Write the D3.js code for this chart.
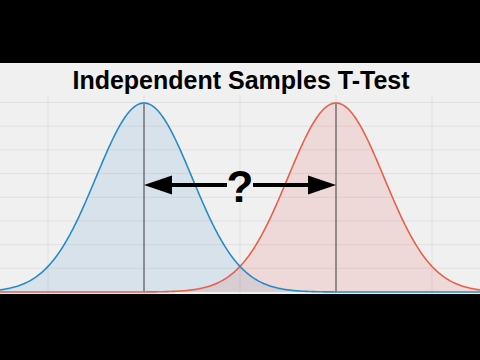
<!DOCTYPE html>
<html>
<head>
<meta charset="utf-8">
<script src="https://cdn.jsdelivr.net/npm/d3@7"></script>
<style>
  body { margin: 0; background: #000; }
  svg { display: block; }
</style>
</head>
<body>
<div id="viz"></div>
<script>
// two groups, same spread, different means
var groupNames = ['A', 'B'];
var groupMeans = [1, 3];
var groupSd = [0.5, 0.5];
var lineColors = ['#2a8ac6', '#e8604c'];
var fillColors = ['#3f8fc4', '#e0504a'];
var xTicks = [0, 1, 2, 3, 4];
var yTicks = [0.1, 0.2, 0.3, 0.4, 0.5, 0.6, 0.7, 0.8];
var title = 'Independent Samples T-Test';

var w = 480, h = 360;
var plotTop = 63, plotBottom = 294;

var svg = d3.select('#viz').append('svg')
  .attr('width', w)
  .attr('height', h);

svg.append('rect').attr('width', w).attr('height', h).attr('fill', '#000');
svg.append('rect')
  .attr('y', plotTop)
  .attr('width', w)
  .attr('height', plotBottom - plotTop)
  .attr('fill', '#f0f0f0');

var x = d3.scaleLinear().domain([-0.5, 4.5]).range([0, w]);
var y = d3.scaleLinear().domain([0, 0.8]).range([292, 102.5]);

// grid
svg.append('g').selectAll('line')
  .data(yTicks)
  .enter().append('line')
  .attr('x1', 0).attr('x2', w)
  .attr('y1', function(d) { return y(d); })
  .attr('y2', function(d) { return y(d); })
  .style('stroke', '#e0e0e0')
  .style('stroke-width', 1);

svg.append('g').selectAll('line')
  .data(xTicks)
  .enter().append('line')
  .attr('x1', function(d) { return x(d); })
  .attr('x2', function(d) { return x(d); })
  .attr('y1', 95).attr('y2', plotBottom)
  .style('stroke', '#e0e0e0')
  .style('stroke-width', 1);

function pdf(v, m, s) {
  return Math.exp(-0.5 * Math.pow((v - m) / s, 2)) / (s * Math.sqrt(2 * Math.PI));
}

var xs = d3.range(-0.5, 4.5001, 0.01);

var area = d3.area()
  .x(function(d) { return x(d[0]); })
  .y0(y(0))
  .y1(function(d) { return y(d[1]); });
var line = d3.line()
  .x(function(d) { return x(d[0]); })
  .y(function(d) { return y(d[1]); });

var curves = groupNames.map(function(g, i) {
  return xs.map(function(v) { return [v, pdf(v, groupMeans[i], groupSd[i])]; });
});

// fills first, then lines on top
svg.append('g').selectAll('path')
  .data(curves)
  .enter().append('path')
  .attr('d', area)
  .style('fill', function(d, i) { return fillColors[i]; })
  .style('fill-opacity', 0.14);

// mean lines
svg.append('g').selectAll('line')
  .data(groupMeans)
  .enter().append('line')
  .attr('x1', function(d) { return x(d); })
  .attr('x2', function(d) { return x(d); })
  .attr('y1', function(d, i) { return y(pdf(d, d, groupSd[i])); })
  .attr('y2', y(0))
  .style('stroke', '#5a5a5a')
  .style('stroke-width', 1.2);

// red first so the blue line sits on top at the baseline on the right
svg.append('g').selectAll('path')
  .data(curves.slice().reverse())
  .enter().append('path')
  .attr('d', line)
  .style('fill', 'none')
  .style('stroke', function(d, i) { return lineColors[1 - i]; })
  .style('stroke-width', 1.6);

// arrows between the means
var arrowY = 185;
var headLen = 28, headHalf = 9.5;
var leftTip = x(groupMeans[0]), rightTip = x(groupMeans[1]);
var mid = (leftTip + rightTip) / 2;

svg.append('line')
  .attr('x1', leftTip + headLen - 2).attr('x2', mid - 13)
  .attr('y1', arrowY).attr('y2', arrowY)
  .style('stroke', '#000').style('stroke-width', 4);
svg.append('line')
  .attr('x1', mid + 13).attr('x2', rightTip - headLen + 2)
  .attr('y1', arrowY).attr('y2', arrowY)
  .style('stroke', '#000').style('stroke-width', 4);

svg.append('path')
  .attr('d', 'M' + leftTip + ',' + arrowY + 'L' + (leftTip + headLen) + ',' + (arrowY - headHalf) +
    'L' + (leftTip + headLen) + ',' + (arrowY + headHalf) + 'Z')
  .style('fill', '#000');
svg.append('path')
  .attr('d', 'M' + rightTip + ',' + arrowY + 'L' + (rightTip - headLen) + ',' + (arrowY - headHalf) +
    'L' + (rightTip - headLen) + ',' + (arrowY + headHalf) + 'Z')
  .style('fill', '#000');

svg.append('text')
  .attr('x', mid)
  .attr('y', 202)
  .attr('text-anchor', 'middle')
  .style('font-family', 'Liberation Sans, Arial, sans-serif')
  .style('font-weight', 'bold')
  .style('font-size', '44px')
  .style('fill', '#000')
  .text('?');

svg.append('text')
  .attr('x', 241)
  .attr('y', 89)
  .attr('text-anchor', 'middle')
  .style('font-family', 'Liberation Sans, Arial, sans-serif')
  .style('font-weight', 'bold')
  .style('font-size', '25px')
  .style('fill', '#000')
  .text(title);
</script>
</body>
</html>
